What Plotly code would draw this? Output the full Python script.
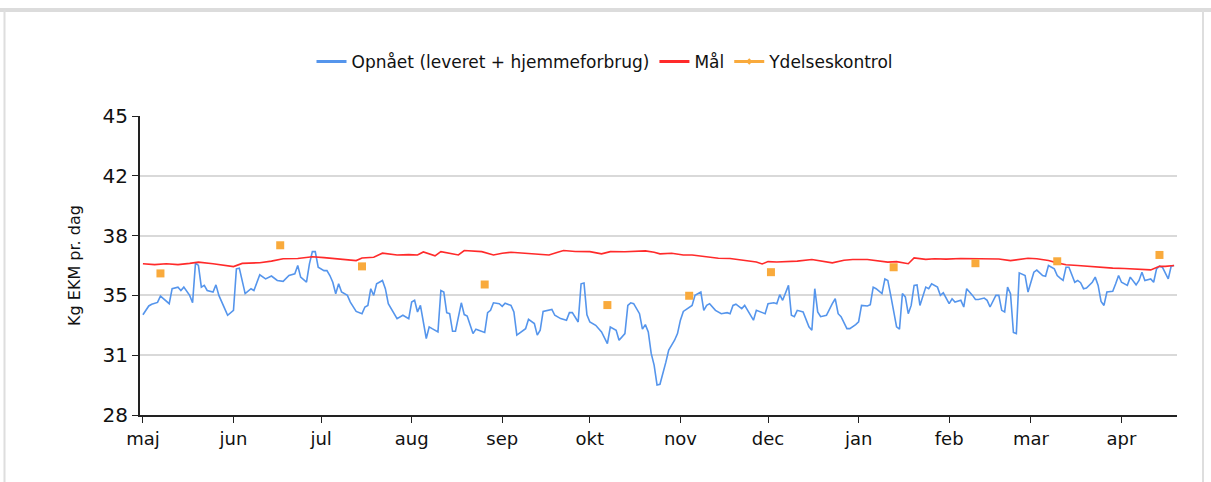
import datetime as dt
import plotly.graph_objects as go

START = dt.date(2022, 5, 1)

# Opnået (leveret + hjemmeforbrug): day offset from 1 May, value
blue_days = [0, 2, 3, 5, 6, 9, 10, 12, 13, 14, 16, 17, 18, 19, 20, 21, 22, 24, 25, 26, 28, 29, 31, 32, 33,
             35, 37, 38, 40, 42, 44, 46, 48, 50, 52, 53, 54, 56, 57, 58, 59, 60, 62, 63, 64, 65, 66, 67, 68,
             70, 71, 73, 75, 76, 77, 78, 79, 80, 82, 83, 84, 86, 87, 89, 91, 92, 93, 94, 95, 97, 98, 99, 101,
             102, 103, 104, 105, 106, 107, 109, 110, 111, 113, 114, 116, 117, 118, 119, 120, 122, 123, 124,
             126, 127, 128, 130, 131, 132, 134, 135, 136, 137, 139, 140, 141, 143, 145, 146, 147, 149, 150,
             151, 152, 153, 155, 157, 159, 160, 162, 163, 165, 166, 167, 168, 170, 171, 172, 173, 174, 175,
             176, 177, 179, 180, 181, 182, 183, 184, 185, 187, 188, 189, 191, 192, 193, 194, 196, 198, 200,
             201, 202, 203, 205, 206, 208, 209, 210, 212, 213, 214, 216, 217, 218, 219, 221, 222, 223, 224,
             226, 228, 229, 230, 231, 232, 234, 236, 237, 238, 239, 241, 242, 244, 245, 246, 248, 249, 250,
             251, 253, 254, 255, 256, 257, 258, 259, 260, 261, 262, 263, 264, 265, 266, 268, 269, 270, 272,
             273, 274, 276, 277, 278, 280, 281, 282, 284, 285, 286, 288, 289, 290, 292, 293, 294, 295, 296,
             297, 298, 299, 300, 302, 303, 304, 305, 306, 308, 309, 310, 312, 313, 314, 315, 316, 317, 319,
             320, 321, 322, 323, 325, 326, 327, 328, 329, 330, 332, 333, 334, 335, 337, 338, 340, 341, 342,
             343, 345, 346, 347, 348, 349, 351, 352, 353]
blue_vals = [33.7, 34.2, 34.3, 34.4, 34.76, 34.33, 35.18, 35.27, 35.08, 35.27, 34.8, 34.38, 36.65, 36.5, 35.27,
             35.37, 35.08, 34.99, 35.4, 34.8, 34.05, 33.67, 33.95, 36.31, 36.35,
             34.9, 35.18, 35.08, 35.97, 35.74, 35.9, 35.65, 35.6, 35.93, 36.03, 36.5, 35.84, 35.55, 36.59,
             37.29, 37.29, 36.4, 36.21, 36.21, 35.93, 35.55, 34.89, 35.46, 34.99,
             34.8, 34.42, 33.89, 33.76, 34.14, 34.23, 35.18, 34.8, 35.46, 35.65, 35.18, 34.33, 33.76, 33.48,
             33.67, 33.48, 34.42, 34.52, 33.86, 34.23, 32.35, 33.01, 32.91, 32.72,
             35.08, 34.99, 33.82, 33.76, 32.76, 32.76, 34.38, 33.71, 33.63, 32.63, 32.88, 32.76, 32.69, 33.82,
             33.95, 34.38, 34.33, 34.18, 34.36,
             34.23, 33.86, 32.54, 32.76, 32.91, 33.44, 33.2, 32.54, 32.82, 33.89, 33.95, 34.0, 33.67, 33.48,
             33.39, 33.82, 33.82, 33.29, 35.46,
             35.5, 33.7, 33.29, 33.1, 32.72, 32.06, 33.0, 32.82, 32.25, 32.63, 34.23, 34.38, 34.33, 33.76,
             32.88, 33.14, 32.72, 31.5, 30.84,
             29.71, 29.75, 30.99, 31.69, 31.97, 32.25, 32.63, 33.39, 33.89, 34.14, 34.23, 34.8, 34.99, 33.95,
             34.23, 34.33, 33.95, 33.76, 33.82,
             33.76, 34.23, 34.3, 34.05, 34.23, 33.63, 33.39, 33.95, 33.82, 33.76, 34.33, 34.38, 34.33, 34.84,
             34.52, 35.37, 33.67, 33.59, 33.95,
             33.86, 33.01, 32.82, 35.18, 33.86, 33.59, 33.67, 34.33, 34.61, 33.76, 33.59, 32.91, 32.91, 33.14,
             33.29, 34.23, 34.2, 34.27, 35.27,
             35.18, 34.9, 35.74, 35.65, 34.8, 33.95, 33.01, 32.88, 34.9, 34.71, 33.76, 34.23, 35.37, 35.4,
             34.23, 35.27, 35.18, 35.46, 35.27,
             34.8, 34.95, 34.33, 34.61, 34.42, 34.52, 34.14, 35.18, 34.8, 34.57, 34.57, 34.65, 34.52, 34.14,
             34.8, 34.8, 33.95, 33.86, 35.27,
             34.9, 32.69, 32.63, 36.08, 35.93, 34.99, 35.55, 36.12, 36.24, 35.93, 35.89, 36.5, 36.31, 35.93,
             35.78, 35.65, 36.4, 36.4, 35.55,
             35.65, 35.52, 35.18, 35.22, 35.55, 35.84, 35.37, 34.46, 34.23, 34.99, 35.03, 35.46, 35.93, 35.55,
             35.37, 35.84, 35.4, 35.65, 36.12,
             35.65, 35.74, 35.55, 36.31, 36.46, 36.4, 35.74, 36.46, 36.5]

# Mål
red_days = [0, 4, 8, 12, 16, 19, 24, 28, 31, 34, 40, 44, 48, 53, 58, 62, 65, 70, 73, 75, 79, 82, 85, 87, 91,
            94, 96, 100, 102, 105, 108, 110, 113, 116, 120, 123, 126, 130, 134, 139, 142, 144, 148, 153, 157,
            160, 165, 172, 175, 177, 181, 185, 188, 191, 194, 197, 201, 204, 208, 210, 212, 214, 217, 220,
            224, 229, 233, 236, 240, 243, 248, 252, 255, 258, 262, 264, 268, 271, 275, 280, 285, 289, 293,
            297, 300, 303, 306, 310, 313, 316, 320, 323, 326, 329, 332, 336, 340, 343, 345, 348, 350, 353]
red_vals = [36.6, 36.55, 36.6, 36.55, 36.62, 36.69, 36.6, 36.52, 36.44, 36.62, 36.66, 36.75, 36.88, 36.9, 37.0,
            36.95, 36.9, 36.85, 36.78, 36.93, 36.97, 37.2, 37.12, 37.1, 37.12,
            37.1, 37.27, 37.05, 37.29, 37.2, 37.1, 37.35, 37.3, 37.29, 37.1, 37.2, 37.25, 37.2, 37.16, 37.1,
            37.25, 37.35, 37.3, 37.29, 37.16,
            37.29, 37.28, 37.33, 37.25, 37.16, 37.2, 37.1, 37.1, 37.03, 36.97, 36.91, 36.9, 36.84, 36.78,
            36.7, 36.59, 36.72, 36.7, 36.72,
            36.75, 36.84, 36.75, 36.65, 36.8, 36.84, 36.84, 36.76, 36.69, 36.72, 36.6, 36.93, 36.85, 36.88,
            36.86, 36.9, 36.9, 36.88, 36.87,
            36.78, 36.85, 36.91, 36.88, 36.78, 36.65, 36.54, 36.5, 36.46, 36.4, 36.38, 36.35, 36.33, 36.31,
            36.3, 36.25, 36.46, 36.45, 36.5]

# Ydelseskontrol
yk_days = [6, 47, 75, 117, 159, 187, 215, 257, 285, 313, 348]
yk_vals = [36.05, 37.65, 36.45, 35.42, 34.25, 34.78, 36.12, 36.4, 36.63, 36.74, 37.1]

month_ticks = ["2022-05-01", "2022-06-01", "2022-07-01", "2022-08-01", "2022-09-01", "2022-10-01",
               "2022-11-01", "2022-12-01", "2023-01-01", "2023-02-01", "2023-03-01", "2023-04-01"]
month_labels = ["maj", "jun", "jul", "aug", "sep", "okt", "nov", "dec", "jan", "feb", "mar", "apr"]

y_tickvals = [28, 31.4, 34.8, 38.2, 41.6, 45]
y_ticktext = ["28", "31", "35", "38", "42", "45"]


def to_dates(days):
    return [(START + dt.timedelta(days=d)).isoformat() for d in days]


BLUE = "#5595ec"
RED = "#ff2a2a"
ORANGE = "#f9aa3c"
FONT = "DejaVu Sans, Verdana, sans-serif"

fig = go.Figure()
fig.add_trace(go.Scatter(x=to_dates(blue_days), y=blue_vals, mode="lines",
                         line=dict(color=BLUE, width=1.6), showlegend=False,
                         name="Opnået (leveret + hjemmeforbrug)"))
fig.add_trace(go.Scatter(x=to_dates(red_days), y=red_vals, mode="lines",
                         line=dict(color=RED, width=1.6), name="Mål", showlegend=False))
fig.add_trace(go.Scatter(x=to_dates(yk_days), y=yk_vals, mode="markers",
                         marker=dict(color=ORANGE, symbol="square", size=8),
                         name="Ydelseskontrol", showlegend=False))
# legend entries (thicker swatches as in the reference)
fig.add_trace(go.Scatter(x=[None], y=[None], mode="lines", line=dict(color=BLUE, width=3),
                         name="Opnået (leveret + hjemmeforbrug)"))
fig.add_trace(go.Scatter(x=[None], y=[None], mode="lines", line=dict(color=RED, width=3), name="Mål"))
fig.add_trace(go.Scatter(x=[None], y=[None], mode="lines+markers",
                         line=dict(color=ORANGE, width=3),
                         marker=dict(color=ORANGE, symbol="diamond", size=5),
                         name="Ydelseskontrol"))

# outer light-grey frame
W, H = 1211, 482
L, R, T, B = 140, 34, 116, 67
pw, ph = W - L - R, H - T - B


def px_x(p):
    return (p - L) / pw


def px_y(p):
    return (H - B - p) / ph


fig.add_shape(type="line", xref="paper", yref="paper", x0=px_x(0), x1=px_x(W), y0=px_y(10), y1=px_y(10),
              line=dict(color="#dcdcdc", width=4), layer="below")
fig.add_shape(type="line", xref="paper", yref="paper", x0=px_x(4.5), x1=px_x(4.5), y0=px_y(10), y1=px_y(H),
              line=dict(color="#dedede", width=2), layer="below")
fig.add_shape(type="line", xref="paper", yref="paper", x0=px_x(1203), x1=px_x(1203), y0=px_y(10), y1=px_y(H),
              line=dict(color="#dedede", width=2), layer="below")

fig.update_layout(
    width=W, height=H,
    margin=dict(l=L, r=R, t=T, b=B),
    paper_bgcolor="white", plot_bgcolor="white",
    font=dict(family=FONT, color="#111111"),
    showlegend=True,
    legend=dict(orientation="h", xref="container", yref="container", x=0.5, xanchor="center",
                y=1 - 62 / H, yanchor="middle", font=dict(size=17, color="#111111"),
                itemwidth=30, tracegroupgap=0, bgcolor="rgba(0,0,0,0)"),
    xaxis=dict(
        range=["2022-04-30", "2023-04-20"],
        tickvals=month_ticks, ticktext=month_labels,
        showgrid=False, showline=True, linecolor="#222222", linewidth=2,
        ticks="outside", ticklen=6, tickcolor="#222222", tickwidth=1,
        tickfont=dict(size=18, color="#111111"), zeroline=False,
    ),
    yaxis=dict(
        range=[28, 45], tickvals=y_tickvals, ticktext=y_ticktext,
        showgrid=True, gridcolor="#d9d9d9", gridwidth=1.5,
        showline=True, linecolor="#222222", linewidth=2,
        ticks="outside", ticklen=6, tickcolor="#222222", tickwidth=1,
        tickfont=dict(size=20, color="#111111"), zeroline=False,
        title=dict(text="Kg EKM pr. dag", font=dict(size=16, color="#111111"), standoff=18),
    ),
)

fig.write_html("out.html", config={"displayModeBar": False},
               post_script="document.body.style.margin='0';")
